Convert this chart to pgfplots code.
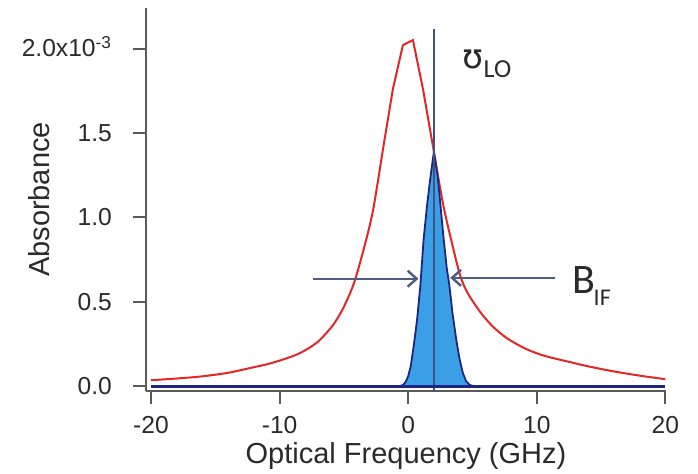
\documentclass[border=0pt]{standalone}
\usepackage{fontspec}
\setmainfont{Liberation Sans}
\newfontfamily\calib{Carlito}
\newfontfamily\dejavu{DejaVu Sans}
\usepackage{pgfplots}
\pgfplotsset{compat=1.18}
\usetikzlibrary{arrows.meta}
\definecolor{redc}{HTML}{E32626}
\definecolor{bluefill}{HTML}{3A9FE4}
\definecolor{navy}{HTML}{1C2680}
\definecolor{vline}{HTML}{3F5285}
\definecolor{arrowc}{HTML}{4E5C82}
\definecolor{axisgray}{HTML}{5A5A5A}
\definecolor{labelgray}{HTML}{2A2A2A}

\begin{document}
\begin{tikzpicture}
\path[use as bounding box] (-73pt,-41pt) rectangle (276pt,195.5pt);
\begin{axis}[
  at={(0pt,0pt)}, anchor=south west,
  scale only axis, width=260pt, height=191.5pt,
  xmin=-20.39, xmax=20.05, ymin=-0.028, ymax=2.24,
  axis x line*=bottom, axis y line*=left,
  axis line style={axisgray, line width=1.2pt, -},
  tick align=outside, major tick length=6.5pt,
  tick style={axisgray, line width=1pt},
  xtick={-20,-10,0,10,20}, xticklabels={-20,-10,0,10,20},
  ytick={0,0.5,1,1.5,2},
  yticklabels={0.0,0.5,1.0,1.5,2.0x10\textsuperscript{-3}},
  tick label style={font=\fontsize{12.3}{14}\selectfont, text=labelgray},
  xticklabel style={anchor=base, yshift=-14.7pt},
  yticklabel style={anchor=base east, xshift=-7pt, yshift=-4.2pt},
  xlabel={Optical Frequency (GHz)},
  ylabel={Absorbance},
  label style={font=\fontsize{14.5}{17}\selectfont, text=labelgray},
  xlabel style={at={(axis description cs:0.5,-0.188)}, anchor=base},
  ylabel style={at={(axis description cs:-0.206,0.5)}, anchor=center},
  clip=false,
]
% absorption line: wings and the sampled top
\addplot[redc, line width=1pt, smooth, tension=0.5] coordinates {
  (-20,0.036) (-18,0.046) (-16,0.059) (-14,0.080) (-12.3,0.108) (-11,0.130)
  (-10,0.152) (-9,0.178) (-8.4,0.197) (-7.6,0.232) (-7,0.265) (-6.46,0.307)
  (-5.8,0.367) (-5.16,0.447) (-4.6,0.537) (-4.12,0.633) (-3.48,0.806)
  (-2.75,1.036) (-1.97,1.40)
};
\addplot[redc, line width=1pt] coordinates {
  (-1.97,1.40) (-1.19,1.76) (-0.41,2.02) (0.37,2.05) (1.15,1.76) (1.93,1.42)
};
\addplot[redc, line width=1pt, smooth, tension=0.5] coordinates {
  (1.93,1.42) (2.71,1.08) (3.49,0.82) (4.05,0.655) (4.6,0.555) (5.6,0.44)
  (6.5,0.36) (7.4,0.30) (8.2,0.26) (9.2,0.22) (10.2,0.19) (11.1,0.17)
  (12.1,0.152) (14,0.118) (16,0.088) (18,0.063) (20,0.042)
};
% IF filter
\addplot[navy, line width=0.9pt, fill=bluefill] coordinates {
  (-0.7,0) (-0.4,0.008) (-0.2,0.025) (0.0,0.06) (0.2,0.12) (0.45,0.25)
  (0.7,0.40) (0.95,0.60) (1.2,0.87) (1.45,1.06) (1.7,1.22) (2.0,1.39)
  (2.3,1.24) (2.5,1.08) (2.75,0.88) (3.0,0.70) (3.2,0.60) (3.45,0.43)
  (3.75,0.27) (4.0,0.16) (4.25,0.08) (4.5,0.03) (4.8,0.008) (5.1,0)
};
% LO frequency
\addplot[vline, line width=1pt] coordinates {(2.02,-0.028) (2.02,2.116)};
% baseline
\addplot[navy, line width=1.4pt] coordinates {(-20,0) (20,0)};

\draw[arrowc, line width=1.2pt, -{Straight Barb[length=4.5pt,width=8pt]}]
  (axis cs:-7.37,0.637) -- (axis cs:0.8,0.637);
\draw[arrowc, line width=1.2pt, -{Straight Barb[length=4.5pt,width=8pt]}]
  (axis cs:11.44,0.642) -- (axis cs:3.27,0.642);

\node[anchor=base west, inner sep=0, text=labelgray,
  font=\calib\fontsize{21}{24}\selectfont] at (axis cs:12.74,0.55) {B};
\node[anchor=base west, inner sep=0, text=labelgray,
  font=\calib\fontsize{12}{14}\selectfont] at (axis cs:14.4,0.48) {IF};
\node[anchor=base west, inner sep=0, text=labelgray,
  font=\dejavu\fontsize{17}{20}\selectfont] at (axis cs:4.18,1.88) {ʊ};
\node[anchor=base west, inner sep=0, text=labelgray,
  font=\calib\fontsize{13}{15}\selectfont] at (axis cs:5.84,1.83) {LO};
\end{axis}
\end{tikzpicture}
\end{document}
